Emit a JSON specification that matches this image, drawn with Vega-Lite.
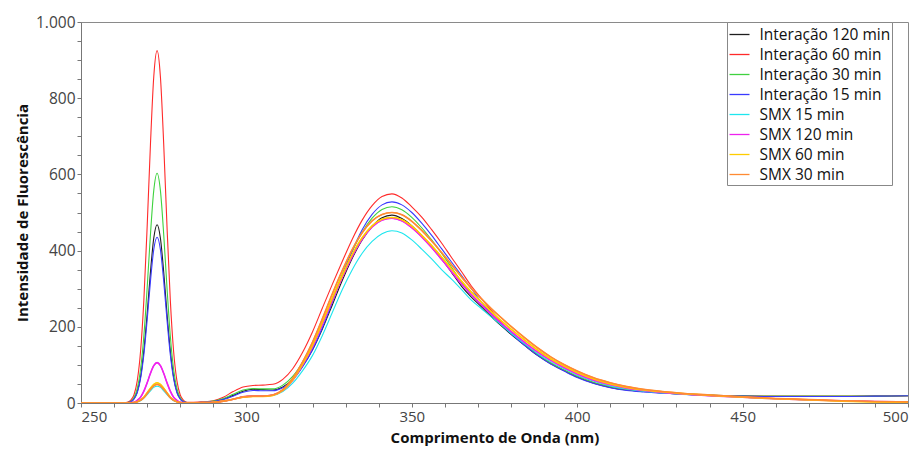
{
  "$schema": "https://vega.github.io/schema/vega-lite/v6.json",
  "width": 827,
  "height": 381,
  "autosize": {"type": "none"},
  "padding": {"left": 81, "top": 22, "right": 15, "bottom": 46},
  "background": "white",
  "config": {
    "locale": {"number": {"decimal": ",", "thousands": ".", "grouping": [3], "currency": ["R$", ""]}},
    "font": "Open Sans",
    "view": {"stroke": "#8a8a8a", "strokeWidth": 1}
  },
  "datasets": {
    "spectra": [
      {"serie":"Interação 120 min","nm":250,"v":0},{"serie":"Interação 120 min","nm":258,"v":0},{"serie":"Interação 120 min","nm":262,"v":0},{"serie":"Interação 120 min","nm":264,"v":1},{"serie":"Interação 120 min","nm":265,"v":3},{"serie":"Interação 120 min","nm":266,"v":11},{"serie":"Interação 120 min","nm":267,"v":29},{"serie":"Interação 120 min","nm":268,"v":68},{"serie":"Interação 120 min","nm":269,"v":137},{"serie":"Interação 120 min","nm":270,"v":234},{"serie":"Interação 120 min","nm":271,"v":344},{"serie":"Interação 120 min","nm":272,"v":433},{"serie":"Interação 120 min","nm":273,"v":468},{"serie":"Interação 120 min","nm":274,"v":433},{"serie":"Interação 120 min","nm":275,"v":344},{"serie":"Interação 120 min","nm":276,"v":234},{"serie":"Interação 120 min","nm":277,"v":137},{"serie":"Interação 120 min","nm":278,"v":68},{"serie":"Interação 120 min","nm":279,"v":29},{"serie":"Interação 120 min","nm":280,"v":11},{"serie":"Interação 120 min","nm":281,"v":3},{"serie":"Interação 120 min","nm":282,"v":1},
      {"serie":"Interação 120 min","nm":284,"v":1},{"serie":"Interação 120 min","nm":287,"v":2},{"serie":"Interação 120 min","nm":290,"v":4},{"serie":"Interação 120 min","nm":293,"v":10},{"serie":"Interação 120 min","nm":296,"v":20},{"serie":"Interação 120 min","nm":299,"v":31},{"serie":"Interação 120 min","nm":302,"v":36},{"serie":"Interação 120 min","nm":305,"v":35},{"serie":"Interação 120 min","nm":308,"v":34},{"serie":"Interação 120 min","nm":311,"v":42},{"serie":"Interação 120 min","nm":314,"v":62},{"serie":"Interação 120 min","nm":317,"v":97},{"serie":"Interação 120 min","nm":320,"v":140},{"serie":"Interação 120 min","nm":323,"v":195},{"serie":"Interação 120 min","nm":326,"v":258},{"serie":"Interação 120 min","nm":329,"v":322},{"serie":"Interação 120 min","nm":332,"v":380},{"serie":"Interação 120 min","nm":335,"v":428},{"serie":"Interação 120 min","nm":338,"v":463},{"serie":"Interação 120 min","nm":341,"v":486},{"serie":"Interação 120 min","nm":344,"v":493},{"serie":"Interação 120 min","nm":347,"v":484},{"serie":"Interação 120 min","nm":350,"v":465},{"serie":"Interação 120 min","nm":353,"v":440},{"serie":"Interação 120 min","nm":356,"v":410},{"serie":"Interação 120 min","nm":359,"v":378},{"serie":"Interação 120 min","nm":362,"v":343},{"serie":"Interação 120 min","nm":365,"v":307},{"serie":"Interação 120 min","nm":368,"v":278},{"serie":"Interação 120 min","nm":371,"v":253},{"serie":"Interação 120 min","nm":374,"v":227},{"serie":"Interação 120 min","nm":377,"v":203},{"serie":"Interação 120 min","nm":380,"v":180},{"serie":"Interação 120 min","nm":384,"v":152},{"serie":"Interação 120 min","nm":388,"v":125},{"serie":"Interação 120 min","nm":392,"v":103},{"serie":"Interação 120 min","nm":396,"v":85},{"serie":"Interação 120 min","nm":400,"v":68},{"serie":"Interação 120 min","nm":405,"v":52},{"serie":"Interação 120 min","nm":410,"v":41},{"serie":"Interação 120 min","nm":415,"v":34},{"serie":"Interação 120 min","nm":420,"v":30},{"serie":"Interação 120 min","nm":430,"v":24},{"serie":"Interação 120 min","nm":440,"v":20},{"serie":"Interação 120 min","nm":450,"v":18},{"serie":"Interação 120 min","nm":460,"v":17},{"serie":"Interação 120 min","nm":470,"v":17},{"serie":"Interação 120 min","nm":480,"v":17},{"serie":"Interação 120 min","nm":490,"v":18},{"serie":"Interação 120 min","nm":500,"v":19},

      {"serie":"Interação 60 min","nm":250,"v":0},{"serie":"Interação 60 min","nm":258,"v":0},{"serie":"Interação 60 min","nm":262,"v":0},{"serie":"Interação 60 min","nm":264,"v":2},{"serie":"Interação 60 min","nm":265,"v":7},{"serie":"Interação 60 min","nm":266,"v":21},{"serie":"Interação 60 min","nm":267,"v":58},{"serie":"Interação 60 min","nm":268,"v":135},{"serie":"Interação 60 min","nm":269,"v":270},{"serie":"Interação 60 min","nm":270,"v":463},{"serie":"Interação 60 min","nm":271,"v":680},{"serie":"Interação 60 min","nm":272,"v":857},{"serie":"Interação 60 min","nm":273,"v":925},{"serie":"Interação 60 min","nm":274,"v":857},{"serie":"Interação 60 min","nm":275,"v":680},{"serie":"Interação 60 min","nm":276,"v":463},{"serie":"Interação 60 min","nm":277,"v":270},{"serie":"Interação 60 min","nm":278,"v":135},{"serie":"Interação 60 min","nm":279,"v":58},{"serie":"Interação 60 min","nm":280,"v":21},{"serie":"Interação 60 min","nm":281,"v":7},{"serie":"Interação 60 min","nm":282,"v":2},
      {"serie":"Interação 60 min","nm":284,"v":2},{"serie":"Interação 60 min","nm":287,"v":3},{"serie":"Interação 60 min","nm":290,"v":6},{"serie":"Interação 60 min","nm":293,"v":15},{"serie":"Interação 60 min","nm":296,"v":30},{"serie":"Interação 60 min","nm":299,"v":42},{"serie":"Interação 60 min","nm":302,"v":46},{"serie":"Interação 60 min","nm":305,"v":47},{"serie":"Interação 60 min","nm":308,"v":49},{"serie":"Interação 60 min","nm":311,"v":62},{"serie":"Interação 60 min","nm":314,"v":90},{"serie":"Interação 60 min","nm":317,"v":133},{"serie":"Interação 60 min","nm":320,"v":187},{"serie":"Interação 60 min","nm":323,"v":250},{"serie":"Interação 60 min","nm":326,"v":312},{"serie":"Interação 60 min","nm":329,"v":372},{"serie":"Interação 60 min","nm":332,"v":430},{"serie":"Interação 60 min","nm":335,"v":480},{"serie":"Interação 60 min","nm":338,"v":518},{"serie":"Interação 60 min","nm":341,"v":542},{"serie":"Interação 60 min","nm":344,"v":549},{"serie":"Interação 60 min","nm":347,"v":538},{"serie":"Interação 60 min","nm":350,"v":515},{"serie":"Interação 60 min","nm":353,"v":488},{"serie":"Interação 60 min","nm":356,"v":455},{"serie":"Interação 60 min","nm":359,"v":420},{"serie":"Interação 60 min","nm":362,"v":382},{"serie":"Interação 60 min","nm":365,"v":345},{"serie":"Interação 60 min","nm":368,"v":307},{"serie":"Interação 60 min","nm":371,"v":275},{"serie":"Interação 60 min","nm":374,"v":243},{"serie":"Interação 60 min","nm":377,"v":212},{"serie":"Interação 60 min","nm":380,"v":185},{"serie":"Interação 60 min","nm":384,"v":155},{"serie":"Interação 60 min","nm":388,"v":127},{"serie":"Interação 60 min","nm":392,"v":105},{"serie":"Interação 60 min","nm":396,"v":86},{"serie":"Interação 60 min","nm":400,"v":70},{"serie":"Interação 60 min","nm":405,"v":54},{"serie":"Interação 60 min","nm":410,"v":43},{"serie":"Interação 60 min","nm":415,"v":35},{"serie":"Interação 60 min","nm":420,"v":31},{"serie":"Interação 60 min","nm":430,"v":25},{"serie":"Interação 60 min","nm":440,"v":21},{"serie":"Interação 60 min","nm":450,"v":19},{"serie":"Interação 60 min","nm":460,"v":18},{"serie":"Interação 60 min","nm":470,"v":18},{"serie":"Interação 60 min","nm":480,"v":18},{"serie":"Interação 60 min","nm":490,"v":18},{"serie":"Interação 60 min","nm":500,"v":19},

      {"serie":"Interação 30 min","nm":250,"v":0},{"serie":"Interação 30 min","nm":258,"v":0},{"serie":"Interação 30 min","nm":262,"v":0},{"serie":"Interação 30 min","nm":264,"v":1},{"serie":"Interação 30 min","nm":265,"v":4},{"serie":"Interação 30 min","nm":266,"v":14},{"serie":"Interação 30 min","nm":267,"v":38},{"serie":"Interação 30 min","nm":268,"v":88},{"serie":"Interação 30 min","nm":269,"v":176},{"serie":"Interação 30 min","nm":270,"v":302},{"serie":"Interação 30 min","nm":271,"v":443},{"serie":"Interação 30 min","nm":272,"v":558},{"serie":"Interação 30 min","nm":273,"v":603},{"serie":"Interação 30 min","nm":274,"v":558},{"serie":"Interação 30 min","nm":275,"v":443},{"serie":"Interação 30 min","nm":276,"v":302},{"serie":"Interação 30 min","nm":277,"v":176},{"serie":"Interação 30 min","nm":278,"v":88},{"serie":"Interação 30 min","nm":279,"v":38},{"serie":"Interação 30 min","nm":280,"v":14},{"serie":"Interação 30 min","nm":281,"v":4},{"serie":"Interação 30 min","nm":282,"v":1},
      {"serie":"Interação 30 min","nm":284,"v":1},{"serie":"Interação 30 min","nm":287,"v":2},{"serie":"Interação 30 min","nm":290,"v":5},{"serie":"Interação 30 min","nm":293,"v":12},{"serie":"Interação 30 min","nm":296,"v":23},{"serie":"Interação 30 min","nm":299,"v":34},{"serie":"Interação 30 min","nm":302,"v":38},{"serie":"Interação 30 min","nm":305,"v":37},{"serie":"Interação 30 min","nm":308,"v":37},{"serie":"Interação 30 min","nm":311,"v":47},{"serie":"Interação 30 min","nm":314,"v":70},{"serie":"Interação 30 min","nm":317,"v":107},{"serie":"Interação 30 min","nm":320,"v":155},{"serie":"Interação 30 min","nm":323,"v":212},{"serie":"Interação 30 min","nm":326,"v":275},{"serie":"Interação 30 min","nm":329,"v":338},{"serie":"Interação 30 min","nm":332,"v":398},{"serie":"Interação 30 min","nm":335,"v":448},{"serie":"Interação 30 min","nm":338,"v":485},{"serie":"Interação 30 min","nm":341,"v":508},{"serie":"Interação 30 min","nm":344,"v":515},{"serie":"Interação 30 min","nm":347,"v":507},{"serie":"Interação 30 min","nm":350,"v":487},{"serie":"Interação 30 min","nm":353,"v":460},{"serie":"Interação 30 min","nm":356,"v":428},{"serie":"Interação 30 min","nm":359,"v":393},{"serie":"Interação 30 min","nm":362,"v":356},{"serie":"Interação 30 min","nm":365,"v":318},{"serie":"Interação 30 min","nm":368,"v":285},{"serie":"Interação 30 min","nm":371,"v":258},{"serie":"Interação 30 min","nm":374,"v":232},{"serie":"Interação 30 min","nm":377,"v":207},{"serie":"Interação 30 min","nm":380,"v":184},{"serie":"Interação 30 min","nm":384,"v":155},{"serie":"Interação 30 min","nm":388,"v":128},{"serie":"Interação 30 min","nm":392,"v":105},{"serie":"Interação 30 min","nm":396,"v":87},{"serie":"Interação 30 min","nm":400,"v":70},{"serie":"Interação 30 min","nm":405,"v":54},{"serie":"Interação 30 min","nm":410,"v":43},{"serie":"Interação 30 min","nm":415,"v":35},{"serie":"Interação 30 min","nm":420,"v":31},{"serie":"Interação 30 min","nm":430,"v":25},{"serie":"Interação 30 min","nm":440,"v":21},{"serie":"Interação 30 min","nm":450,"v":19},{"serie":"Interação 30 min","nm":460,"v":18},{"serie":"Interação 30 min","nm":470,"v":18},{"serie":"Interação 30 min","nm":480,"v":18},{"serie":"Interação 30 min","nm":490,"v":18},{"serie":"Interação 30 min","nm":500,"v":19},

      {"serie":"Interação 15 min","nm":250,"v":0},{"serie":"Interação 15 min","nm":258,"v":0},{"serie":"Interação 15 min","nm":262,"v":0},{"serie":"Interação 15 min","nm":264,"v":1},{"serie":"Interação 15 min","nm":265,"v":3},{"serie":"Interação 15 min","nm":266,"v":10},{"serie":"Interação 15 min","nm":267,"v":27},{"serie":"Interação 15 min","nm":268,"v":64},{"serie":"Interação 15 min","nm":269,"v":127},{"serie":"Interação 15 min","nm":270,"v":218},{"serie":"Interação 15 min","nm":271,"v":320},{"serie":"Interação 15 min","nm":272,"v":403},{"serie":"Interação 15 min","nm":273,"v":435},{"serie":"Interação 15 min","nm":274,"v":403},{"serie":"Interação 15 min","nm":275,"v":320},{"serie":"Interação 15 min","nm":276,"v":218},{"serie":"Interação 15 min","nm":277,"v":127},{"serie":"Interação 15 min","nm":278,"v":64},{"serie":"Interação 15 min","nm":279,"v":27},{"serie":"Interação 15 min","nm":280,"v":10},{"serie":"Interação 15 min","nm":281,"v":3},{"serie":"Interação 15 min","nm":282,"v":1},
      {"serie":"Interação 15 min","nm":284,"v":1},{"serie":"Interação 15 min","nm":287,"v":2},{"serie":"Interação 15 min","nm":290,"v":4},{"serie":"Interação 15 min","nm":293,"v":9},{"serie":"Interação 15 min","nm":296,"v":18},{"serie":"Interação 15 min","nm":299,"v":28},{"serie":"Interação 15 min","nm":302,"v":33},{"serie":"Interação 15 min","nm":305,"v":32},{"serie":"Interação 15 min","nm":308,"v":32},{"serie":"Interação 15 min","nm":311,"v":40},{"serie":"Interação 15 min","nm":314,"v":60},{"serie":"Interação 15 min","nm":317,"v":95},{"serie":"Interação 15 min","nm":320,"v":140},{"serie":"Interação 15 min","nm":323,"v":198},{"serie":"Interação 15 min","nm":326,"v":265},{"serie":"Interação 15 min","nm":329,"v":335},{"serie":"Interação 15 min","nm":332,"v":400},{"serie":"Interação 15 min","nm":335,"v":455},{"serie":"Interação 15 min","nm":338,"v":495},{"serie":"Interação 15 min","nm":341,"v":520},{"serie":"Interação 15 min","nm":344,"v":528},{"serie":"Interação 15 min","nm":347,"v":520},{"serie":"Interação 15 min","nm":350,"v":500},{"serie":"Interação 15 min","nm":353,"v":472},{"serie":"Interação 15 min","nm":356,"v":440},{"serie":"Interação 15 min","nm":359,"v":405},{"serie":"Interação 15 min","nm":362,"v":370},{"serie":"Interação 15 min","nm":365,"v":335},{"serie":"Interação 15 min","nm":368,"v":300},{"serie":"Interação 15 min","nm":371,"v":265},{"serie":"Interação 15 min","nm":374,"v":235},{"serie":"Interação 15 min","nm":377,"v":207},{"serie":"Interação 15 min","nm":380,"v":182},{"serie":"Interação 15 min","nm":384,"v":152},{"serie":"Interação 15 min","nm":388,"v":125},{"serie":"Interação 15 min","nm":392,"v":102},{"serie":"Interação 15 min","nm":396,"v":84},{"serie":"Interação 15 min","nm":400,"v":67},{"serie":"Interação 15 min","nm":405,"v":51},{"serie":"Interação 15 min","nm":410,"v":40},{"serie":"Interação 15 min","nm":415,"v":33},{"serie":"Interação 15 min","nm":420,"v":29},{"serie":"Interação 15 min","nm":430,"v":24},{"serie":"Interação 15 min","nm":440,"v":20},{"serie":"Interação 15 min","nm":450,"v":18},{"serie":"Interação 15 min","nm":460,"v":17},{"serie":"Interação 15 min","nm":470,"v":17},{"serie":"Interação 15 min","nm":480,"v":17},{"serie":"Interação 15 min","nm":490,"v":18},{"serie":"Interação 15 min","nm":500,"v":19},

      {"serie":"SMX 15 min","nm":250,"v":0},{"serie":"SMX 15 min","nm":258,"v":0},{"serie":"SMX 15 min","nm":262,"v":0},{"serie":"SMX 15 min","nm":264,"v":0},{"serie":"SMX 15 min","nm":265,"v":0},{"serie":"SMX 15 min","nm":266,"v":1},{"serie":"SMX 15 min","nm":267,"v":3},{"serie":"SMX 15 min","nm":268,"v":6},{"serie":"SMX 15 min","nm":269,"v":13},{"serie":"SMX 15 min","nm":270,"v":22},{"serie":"SMX 15 min","nm":271,"v":32},{"serie":"SMX 15 min","nm":272,"v":41},{"serie":"SMX 15 min","nm":273,"v":44},{"serie":"SMX 15 min","nm":274,"v":41},{"serie":"SMX 15 min","nm":275,"v":32},{"serie":"SMX 15 min","nm":276,"v":22},{"serie":"SMX 15 min","nm":277,"v":13},{"serie":"SMX 15 min","nm":278,"v":6},{"serie":"SMX 15 min","nm":279,"v":3},{"serie":"SMX 15 min","nm":280,"v":1},{"serie":"SMX 15 min","nm":281,"v":0},{"serie":"SMX 15 min","nm":282,"v":0},
      {"serie":"SMX 15 min","nm":284,"v":0},{"serie":"SMX 15 min","nm":287,"v":1},{"serie":"SMX 15 min","nm":290,"v":2},{"serie":"SMX 15 min","nm":293,"v":5},{"serie":"SMX 15 min","nm":296,"v":10},{"serie":"SMX 15 min","nm":299,"v":16},{"serie":"SMX 15 min","nm":302,"v":18},{"serie":"SMX 15 min","nm":305,"v":18},{"serie":"SMX 15 min","nm":308,"v":20},{"serie":"SMX 15 min","nm":311,"v":30},{"serie":"SMX 15 min","nm":314,"v":52},{"serie":"SMX 15 min","nm":317,"v":85},{"serie":"SMX 15 min","nm":320,"v":125},{"serie":"SMX 15 min","nm":323,"v":178},{"serie":"SMX 15 min","nm":326,"v":238},{"serie":"SMX 15 min","nm":329,"v":298},{"serie":"SMX 15 min","nm":332,"v":350},{"serie":"SMX 15 min","nm":335,"v":393},{"serie":"SMX 15 min","nm":338,"v":424},{"serie":"SMX 15 min","nm":341,"v":444},{"serie":"SMX 15 min","nm":344,"v":452},{"serie":"SMX 15 min","nm":347,"v":446},{"serie":"SMX 15 min","nm":350,"v":428},{"serie":"SMX 15 min","nm":353,"v":404},{"serie":"SMX 15 min","nm":356,"v":378},{"serie":"SMX 15 min","nm":359,"v":350},{"serie":"SMX 15 min","nm":362,"v":325},{"serie":"SMX 15 min","nm":365,"v":298},{"serie":"SMX 15 min","nm":368,"v":270},{"serie":"SMX 15 min","nm":371,"v":248},{"serie":"SMX 15 min","nm":374,"v":226},{"serie":"SMX 15 min","nm":377,"v":205},{"serie":"SMX 15 min","nm":380,"v":183},{"serie":"SMX 15 min","nm":384,"v":156},{"serie":"SMX 15 min","nm":388,"v":130},{"serie":"SMX 15 min","nm":392,"v":108},{"serie":"SMX 15 min","nm":396,"v":90},{"serie":"SMX 15 min","nm":400,"v":73},{"serie":"SMX 15 min","nm":405,"v":57},{"serie":"SMX 15 min","nm":410,"v":45},{"serie":"SMX 15 min","nm":415,"v":37},{"serie":"SMX 15 min","nm":420,"v":31},{"serie":"SMX 15 min","nm":430,"v":24},{"serie":"SMX 15 min","nm":440,"v":19},{"serie":"SMX 15 min","nm":450,"v":15},{"serie":"SMX 15 min","nm":460,"v":11},{"serie":"SMX 15 min","nm":470,"v":8},{"serie":"SMX 15 min","nm":480,"v":6},{"serie":"SMX 15 min","nm":490,"v":4},{"serie":"SMX 15 min","nm":500,"v":3},

      {"serie":"SMX 120 min","nm":250,"v":0},{"serie":"SMX 120 min","nm":258,"v":0},{"serie":"SMX 120 min","nm":262,"v":0},{"serie":"SMX 120 min","nm":264,"v":0},{"serie":"SMX 120 min","nm":265,"v":1},{"serie":"SMX 120 min","nm":266,"v":2},{"serie":"SMX 120 min","nm":267,"v":7},{"serie":"SMX 120 min","nm":268,"v":15},{"serie":"SMX 120 min","nm":269,"v":31},{"serie":"SMX 120 min","nm":270,"v":53},{"serie":"SMX 120 min","nm":271,"v":78},{"serie":"SMX 120 min","nm":272,"v":98},{"serie":"SMX 120 min","nm":273,"v":106},{"serie":"SMX 120 min","nm":274,"v":98},{"serie":"SMX 120 min","nm":275,"v":78},{"serie":"SMX 120 min","nm":276,"v":53},{"serie":"SMX 120 min","nm":277,"v":31},{"serie":"SMX 120 min","nm":278,"v":15},{"serie":"SMX 120 min","nm":279,"v":7},{"serie":"SMX 120 min","nm":280,"v":2},{"serie":"SMX 120 min","nm":281,"v":1},{"serie":"SMX 120 min","nm":282,"v":0},
      {"serie":"SMX 120 min","nm":284,"v":0},{"serie":"SMX 120 min","nm":287,"v":1},{"serie":"SMX 120 min","nm":290,"v":2},{"serie":"SMX 120 min","nm":293,"v":5},{"serie":"SMX 120 min","nm":296,"v":10},{"serie":"SMX 120 min","nm":299,"v":16},{"serie":"SMX 120 min","nm":302,"v":18},{"serie":"SMX 120 min","nm":305,"v":18},{"serie":"SMX 120 min","nm":308,"v":21},{"serie":"SMX 120 min","nm":311,"v":33},{"serie":"SMX 120 min","nm":314,"v":60},{"serie":"SMX 120 min","nm":317,"v":100},{"serie":"SMX 120 min","nm":320,"v":148},{"serie":"SMX 120 min","nm":323,"v":207},{"serie":"SMX 120 min","nm":326,"v":270},{"serie":"SMX 120 min","nm":329,"v":330},{"serie":"SMX 120 min","nm":332,"v":385},{"serie":"SMX 120 min","nm":335,"v":430},{"serie":"SMX 120 min","nm":338,"v":462},{"serie":"SMX 120 min","nm":341,"v":480},{"serie":"SMX 120 min","nm":344,"v":485},{"serie":"SMX 120 min","nm":347,"v":478},{"serie":"SMX 120 min","nm":350,"v":460},{"serie":"SMX 120 min","nm":353,"v":436},{"serie":"SMX 120 min","nm":356,"v":408},{"serie":"SMX 120 min","nm":359,"v":377},{"serie":"SMX 120 min","nm":362,"v":345},{"serie":"SMX 120 min","nm":365,"v":313},{"serie":"SMX 120 min","nm":368,"v":284},{"serie":"SMX 120 min","nm":371,"v":258},{"serie":"SMX 120 min","nm":374,"v":233},{"serie":"SMX 120 min","nm":377,"v":210},{"serie":"SMX 120 min","nm":380,"v":188},{"serie":"SMX 120 min","nm":384,"v":160},{"serie":"SMX 120 min","nm":388,"v":134},{"serie":"SMX 120 min","nm":392,"v":112},{"serie":"SMX 120 min","nm":396,"v":93},{"serie":"SMX 120 min","nm":400,"v":76},{"serie":"SMX 120 min","nm":405,"v":60},{"serie":"SMX 120 min","nm":410,"v":48},{"serie":"SMX 120 min","nm":415,"v":39},{"serie":"SMX 120 min","nm":420,"v":33},{"serie":"SMX 120 min","nm":430,"v":25},{"serie":"SMX 120 min","nm":440,"v":19},{"serie":"SMX 120 min","nm":450,"v":15},{"serie":"SMX 120 min","nm":460,"v":11},{"serie":"SMX 120 min","nm":470,"v":8},{"serie":"SMX 120 min","nm":480,"v":6},{"serie":"SMX 120 min","nm":490,"v":4},{"serie":"SMX 120 min","nm":500,"v":3},

      {"serie":"SMX 60 min","nm":250,"v":0},{"serie":"SMX 60 min","nm":258,"v":0},{"serie":"SMX 60 min","nm":262,"v":0},{"serie":"SMX 60 min","nm":264,"v":0},{"serie":"SMX 60 min","nm":265,"v":0},{"serie":"SMX 60 min","nm":266,"v":1},{"serie":"SMX 60 min","nm":267,"v":3},{"serie":"SMX 60 min","nm":268,"v":8},{"serie":"SMX 60 min","nm":269,"v":15},{"serie":"SMX 60 min","nm":270,"v":27},{"serie":"SMX 60 min","nm":271,"v":39},{"serie":"SMX 60 min","nm":272,"v":49},{"serie":"SMX 60 min","nm":273,"v":53},{"serie":"SMX 60 min","nm":274,"v":49},{"serie":"SMX 60 min","nm":275,"v":39},{"serie":"SMX 60 min","nm":276,"v":27},{"serie":"SMX 60 min","nm":277,"v":15},{"serie":"SMX 60 min","nm":278,"v":8},{"serie":"SMX 60 min","nm":279,"v":3},{"serie":"SMX 60 min","nm":280,"v":1},{"serie":"SMX 60 min","nm":281,"v":0},{"serie":"SMX 60 min","nm":282,"v":0},
      {"serie":"SMX 60 min","nm":284,"v":0},{"serie":"SMX 60 min","nm":287,"v":1},{"serie":"SMX 60 min","nm":290,"v":2},{"serie":"SMX 60 min","nm":293,"v":5},{"serie":"SMX 60 min","nm":296,"v":10},{"serie":"SMX 60 min","nm":299,"v":15},{"serie":"SMX 60 min","nm":302,"v":17},{"serie":"SMX 60 min","nm":305,"v":17},{"serie":"SMX 60 min","nm":308,"v":20},{"serie":"SMX 60 min","nm":311,"v":33},{"serie":"SMX 60 min","nm":314,"v":61},{"serie":"SMX 60 min","nm":317,"v":102},{"serie":"SMX 60 min","nm":320,"v":152},{"serie":"SMX 60 min","nm":323,"v":212},{"serie":"SMX 60 min","nm":326,"v":275},{"serie":"SMX 60 min","nm":329,"v":335},{"serie":"SMX 60 min","nm":332,"v":390},{"serie":"SMX 60 min","nm":335,"v":434},{"serie":"SMX 60 min","nm":338,"v":465},{"serie":"SMX 60 min","nm":341,"v":482},{"serie":"SMX 60 min","nm":344,"v":487},{"serie":"SMX 60 min","nm":347,"v":481},{"serie":"SMX 60 min","nm":350,"v":464},{"serie":"SMX 60 min","nm":353,"v":440},{"serie":"SMX 60 min","nm":356,"v":413},{"serie":"SMX 60 min","nm":359,"v":383},{"serie":"SMX 60 min","nm":362,"v":352},{"serie":"SMX 60 min","nm":365,"v":320},{"serie":"SMX 60 min","nm":368,"v":291},{"serie":"SMX 60 min","nm":371,"v":265},{"serie":"SMX 60 min","nm":374,"v":240},{"serie":"SMX 60 min","nm":377,"v":216},{"serie":"SMX 60 min","nm":380,"v":194},{"serie":"SMX 60 min","nm":384,"v":166},{"serie":"SMX 60 min","nm":388,"v":139},{"serie":"SMX 60 min","nm":392,"v":116},{"serie":"SMX 60 min","nm":396,"v":97},{"serie":"SMX 60 min","nm":400,"v":80},{"serie":"SMX 60 min","nm":405,"v":63},{"serie":"SMX 60 min","nm":410,"v":50},{"serie":"SMX 60 min","nm":415,"v":41},{"serie":"SMX 60 min","nm":420,"v":34},{"serie":"SMX 60 min","nm":430,"v":26},{"serie":"SMX 60 min","nm":440,"v":20},{"serie":"SMX 60 min","nm":450,"v":15},{"serie":"SMX 60 min","nm":460,"v":11},{"serie":"SMX 60 min","nm":470,"v":8},{"serie":"SMX 60 min","nm":480,"v":5},{"serie":"SMX 60 min","nm":490,"v":3},{"serie":"SMX 60 min","nm":500,"v":2},

      {"serie":"SMX 30 min","nm":250,"v":0},{"serie":"SMX 30 min","nm":258,"v":0},{"serie":"SMX 30 min","nm":262,"v":0},{"serie":"SMX 30 min","nm":264,"v":0},{"serie":"SMX 30 min","nm":265,"v":0},{"serie":"SMX 30 min","nm":266,"v":1},{"serie":"SMX 30 min","nm":267,"v":3},{"serie":"SMX 30 min","nm":268,"v":7},{"serie":"SMX 30 min","nm":269,"v":14},{"serie":"SMX 30 min","nm":270,"v":25},{"serie":"SMX 30 min","nm":271,"v":36},{"serie":"SMX 30 min","nm":272,"v":45},{"serie":"SMX 30 min","nm":273,"v":49},{"serie":"SMX 30 min","nm":274,"v":45},{"serie":"SMX 30 min","nm":275,"v":36},{"serie":"SMX 30 min","nm":276,"v":25},{"serie":"SMX 30 min","nm":277,"v":14},{"serie":"SMX 30 min","nm":278,"v":7},{"serie":"SMX 30 min","nm":279,"v":3},{"serie":"SMX 30 min","nm":280,"v":1},{"serie":"SMX 30 min","nm":281,"v":0},{"serie":"SMX 30 min","nm":282,"v":0},
      {"serie":"SMX 30 min","nm":284,"v":0},{"serie":"SMX 30 min","nm":287,"v":1},{"serie":"SMX 30 min","nm":290,"v":2},{"serie":"SMX 30 min","nm":293,"v":5},{"serie":"SMX 30 min","nm":296,"v":10},{"serie":"SMX 30 min","nm":299,"v":16},{"serie":"SMX 30 min","nm":302,"v":18},{"serie":"SMX 30 min","nm":305,"v":18},{"serie":"SMX 30 min","nm":308,"v":21},{"serie":"SMX 30 min","nm":311,"v":35},{"serie":"SMX 30 min","nm":314,"v":65},{"serie":"SMX 30 min","nm":317,"v":108},{"serie":"SMX 30 min","nm":320,"v":160},{"serie":"SMX 30 min","nm":323,"v":222},{"serie":"SMX 30 min","nm":326,"v":287},{"serie":"SMX 30 min","nm":329,"v":348},{"serie":"SMX 30 min","nm":332,"v":403},{"serie":"SMX 30 min","nm":335,"v":447},{"serie":"SMX 30 min","nm":338,"v":478},{"serie":"SMX 30 min","nm":341,"v":495},{"serie":"SMX 30 min","nm":344,"v":500},{"serie":"SMX 30 min","nm":347,"v":494},{"serie":"SMX 30 min","nm":350,"v":477},{"serie":"SMX 30 min","nm":353,"v":453},{"serie":"SMX 30 min","nm":356,"v":425},{"serie":"SMX 30 min","nm":359,"v":395},{"serie":"SMX 30 min","nm":362,"v":363},{"serie":"SMX 30 min","nm":365,"v":331},{"serie":"SMX 30 min","nm":368,"v":301},{"serie":"SMX 30 min","nm":371,"v":274},{"serie":"SMX 30 min","nm":374,"v":248},{"serie":"SMX 30 min","nm":377,"v":224},{"serie":"SMX 30 min","nm":380,"v":201},{"serie":"SMX 30 min","nm":384,"v":172},{"serie":"SMX 30 min","nm":388,"v":145},{"serie":"SMX 30 min","nm":392,"v":121},{"serie":"SMX 30 min","nm":396,"v":101},{"serie":"SMX 30 min","nm":400,"v":84},{"serie":"SMX 30 min","nm":405,"v":66},{"serie":"SMX 30 min","nm":410,"v":53},{"serie":"SMX 30 min","nm":415,"v":43},{"serie":"SMX 30 min","nm":420,"v":36},{"serie":"SMX 30 min","nm":430,"v":27},{"serie":"SMX 30 min","nm":440,"v":21},{"serie":"SMX 30 min","nm":450,"v":16},{"serie":"SMX 30 min","nm":460,"v":12},{"serie":"SMX 30 min","nm":470,"v":9},{"serie":"SMX 30 min","nm":480,"v":6},{"serie":"SMX 30 min","nm":490,"v":4},{"serie":"SMX 30 min","nm":500,"v":3}
    ]
  },
  "data": {"name": "spectra"},
  "encoding": {
    "x": {
      "field": "nm", "type": "quantitative",
      "scale": {"domain": [250, 500], "nice": false},
      "axis": {
        "title": "Comprimento de Onda (nm)",
        "values": [250,260,270,280,290,300,310,320,330,340,350,360,370,380,390,400,410,420,430,440,450,460,470,480,490,500],
        "labelExpr": "datum.value % 50 === 0 ? datum.label : ''",
        "format": "d",
        "grid": false, "domainColor": "#777", "tickColor": "#777", "tickSize": 4,
        "labelFontSize": 15, "labelColor": "#444", "labelPadding": 2, "labelFont": "Open Sans",
        "titleFontSize": 15, "titleFontWeight": "bold", "titleColor": "#111", "titlePadding": 6, "titleFont": "Open Sans"
      }
    },
    "y": {
      "field": "v", "type": "quantitative",
      "scale": {"domain": [0, 1000], "nice": false},
      "axis": {
        "title": "Intensidade de Fluorescência",
        "values": [0,50,100,150,200,250,300,350,400,450,500,550,600,650,700,750,800,850,900,950,1000],
        "format": ",d",
        "labelExpr": "datum.value % 200 === 0 ? datum.label : ''",
        "grid": false, "domainColor": "#777", "tickColor": "#777", "tickSize": 4,
        "labelFontSize": 15.5, "labelColor": "#444", "labelPadding": 2, "labelFont": "Open Sans",
        "titleFontSize": 15, "titleFontWeight": "bold", "titleColor": "#111", "titlePadding": 5, "titleFont": "Open Sans"
      }
    },
    "color": {
      "field": "serie", "type": "nominal",
      "scale": {
        "domain": ["Interação 120 min","Interação 60 min","Interação 30 min","Interação 15 min","SMX 15 min","SMX 120 min","SMX 60 min","SMX 30 min"],
        "range": ["#1e1e1e","#ff2a2a","#3fd23f","#3a3aff","#1ee6ee","#ee22ee","#ffcc00","#ff8a33"]
      },
      "legend": {
        "title": null, "orient": "none", "legendX": 646, "legendY": 0,
        "symbolType": "stroke", "symbolSize": 400, "symbolStrokeWidth": 1.3,
        "labelFontSize": 15.5, "labelColor": "#111", "labelFont": "Open Sans", "labelOffset": 9,
        "rowPadding": -0.5, "padding": 1.5,
        "strokeColor": "#888", "fillColor": "white", "cornerRadius": 0
      }
    }
  },
  "layer": [
    {"mark": {"type": "line", "interpolate": "monotone", "clip": true, "strokeWidth": 1.1}},
    {
      "transform": [{"filter": "datum.serie === 'SMX 120 min' || datum.serie === 'SMX 60 min' || datum.serie === 'SMX 30 min'"}],
      "mark": {"type": "line", "interpolate": "monotone", "clip": true, "strokeWidth": 1.6}
    }
  ]
}
